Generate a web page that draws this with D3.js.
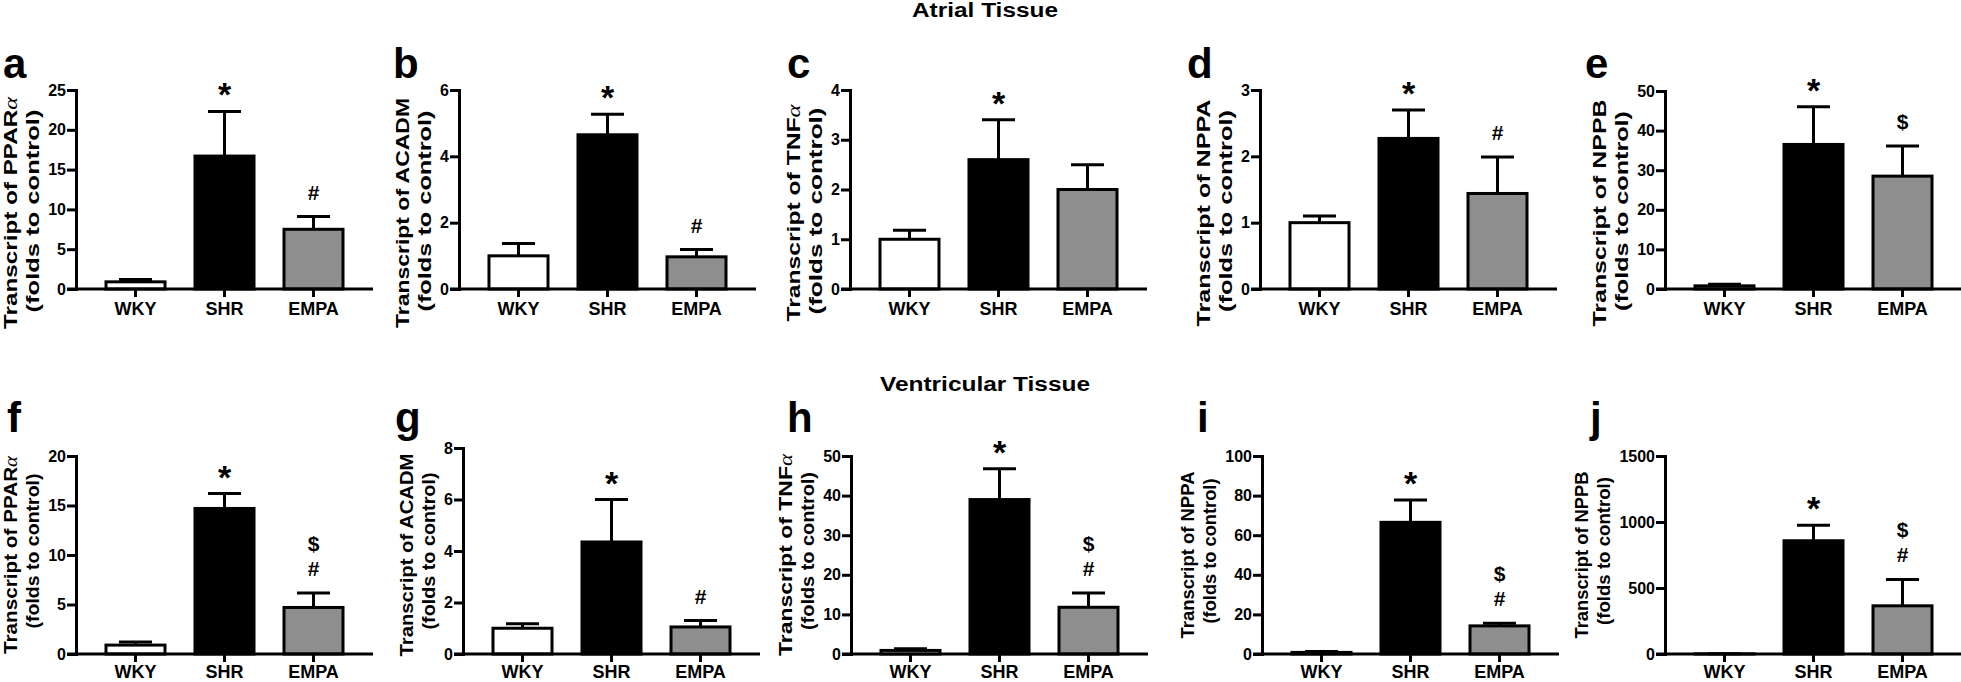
<!DOCTYPE html>
<html><head><meta charset="utf-8">
<script src="https://cdn.jsdelivr.net/npm/d3@7"></script>
<style>
body{margin:0;background:#fff}
svg{display:block}
text{font-family:"Liberation Sans",Arial,Helvetica,sans-serif;font-weight:bold;fill:#000}
</style>
</head><body>
<svg id="chart" width="1961" height="682"></svg>
<script>
// ---------------- data ----------------
const groups = ["WKY", "SHR", "EMPA"];
const panelLetters = ["a","b","c","d","e","f","g","h","i","j"];
const genes = ["PPAR", "ACADM", "TNF", "NPPA", "NPPB", "PPAR", "ACADM", "TNF", "NPPA", "NPPB"];
const geneAlpha = [true, false, true, false, false, true, false, true, false, false];
const yMax  = [25, 6, 4, 3, 50, 20, 8, 50, 100, 1500];
const yStep = [5, 2, 1, 1, 10, 5, 2, 10, 20, 500];
const means = [
  [0.9, 16.7, 7.5],
  [1.0, 4.65, 0.97],
  [1.0, 2.6, 2.0],
  [1.0, 2.27, 1.44],
  [0.8, 36.5, 28.5],
  [0.9, 14.7, 4.7],
  [1.0, 4.35, 1.05],
  [0.9, 39.0, 11.8],
  [0.8, 66.5, 14.2],
  [1.0, 858, 365]
];
const errs = [
  [0.3, 5.6, 1.6],
  [0.37, 0.62, 0.22],
  [0.18, 0.8, 0.5],
  [0.1, 0.43, 0.55],
  [0.4, 9.5, 7.6],
  [0.3, 1.5, 1.45],
  [0.17, 1.65, 0.25],
  [0.4, 7.8, 3.6],
  [0.4, 11.3, 1.3],
  [0.5, 118, 200]
];
const marks = [
  ["", "*", "#"],
  ["", "*", "#"],
  ["", "*", ""],
  ["", "*", "#"],
  ["", "*", "$"],
  ["", "*", "$#"],
  ["", "*", "#"],
  ["", "*", "$#"],
  ["", "*", "$#"],
  ["", "*", "$#"]
];
const rowTitles = ["Atrial Tissue", "Ventricular Tissue"];
const yLabelLine2 = "(folds to control)";

// ---------------- layout / style ----------------
const L = {
  axisX:   [76, 459, 850, 1260, 1665, 76, 463, 851, 1262, 1665],
  plotW: 297,
  axisTop: [90, 90, 90, 90, 91, 456, 448, 456, 456, 456],
  rowZero: [289, 654],
  catPad: [5, 3],
  letterX: [3, 393, 787, 1187, 1585, 7, 395, 787, 1197, 1590],
  letterBase: [78, 432],
  titleX: 985, titleBase: [17, 391], titleLen: [146, 210],
  lab1Len: [232, 230, 217, 227, 227, 198, 203, 202, 167, 167],
  lab2Len: [203, 201, 207, 202, 200, 155, 157, 158, 145, 148],
  lab1Mid: [213, 555], lab2Mid: [211, 551]
};
const fills = ["#ffffff", "#000000", "#8e8e8e"];
const SW = 3;

const svg = d3.select("#chart");

rowTitles.forEach((t, r) => {
  svg.append("text").attr("x", L.titleX).attr("y", L.titleBase[r])
    .attr("text-anchor", "middle").style("font-size", "20px")
    .attr("textLength", L.titleLen[r]).attr("lengthAdjust", "spacingAndGlyphs")
    .text(t);
});

panelLetters.forEach((letter, p) => {
  const row = p < 5 ? 0 : 1;
  const ax = L.axisX[p];
  const g = svg.append("g");

  const x = d3.scaleBand().domain(groups).range([ax, ax + L.plotW]).padding(0.337);
  const y = d3.scaleLinear().domain([0, yMax[p]]).range([L.rowZero[row], L.axisTop[p]]);
  const bw = x.bandwidth();

  // panel letter
  svg.append("text").attr("x", L.letterX[p]).attr("y", L.letterBase[row])
    .style("font-size", "42px").text(letter);

  // bars
  const data = groups.map((k, i) => ({k, i, m: means[p][i], e: errs[p][i], mk: marks[p][i]}));
  g.selectAll("rect.bar").data(data).join("rect").attr("class", "bar")
    .attr("x", d => x(d.k)).attr("width", bw)
    .attr("y", d => y(d.m)).attr("height", d => y(0) - y(d.m))
    .attr("fill", d => fills[d.i]).attr("stroke", "#000").attr("stroke-width", SW);

  // error bars (upper only)
  g.selectAll("line.ev").data(data).join("line").attr("class", "ev")
    .attr("x1", d => x(d.k) + bw / 2).attr("x2", d => x(d.k) + bw / 2)
    .attr("y1", d => y(d.m)).attr("y2", d => y(d.m + d.e))
    .attr("stroke", "#000").attr("stroke-width", SW);
  g.selectAll("line.ec").data(data).join("line").attr("class", "ec")
    .attr("x1", d => x(d.k) + bw / 2 - bw * 0.28).attr("x2", d => x(d.k) + bw / 2 + bw * 0.28)
    .attr("y1", d => y(d.m + d.e)).attr("y2", d => y(d.m + d.e))
    .attr("stroke", "#000").attr("stroke-width", SW);

  // significance marks
  data.filter(d => d.mk).forEach(d => {
    const cx = x(d.k) + bw / 2;
    const top = y(d.m + d.e);
    if (d.mk === "*") {
      g.append("text").attr("x", cx).attr("y", top - 5).attr("text-anchor", "middle")
        .style("font-size", "34px").text("*");
    } else {
      const syms = d.mk.split("").reverse(); // bottom first
      syms.forEach((s, j) => {
        g.append("text").attr("x", cx).attr("y", top - 17 - j * 25).attr("text-anchor", "middle")
          .style("font-size", "21px").text(s);
      });
    }
  });

  // y axis
  const yAxis = g.append("g").attr("transform", `translate(${ax},0)`)
    .call(d3.axisLeft(y).tickValues(d3.range(0, yMax[p] + yStep[p] / 2, yStep[p]))
      .tickSize(9).tickSizeOuter(0).tickPadding(1).tickFormat(d3.format("d")));
  yAxis.select(".domain").attr("stroke-width", SW).attr("stroke-linecap", "square");
  yAxis.selectAll(".tick line").attr("stroke-width", SW);
  yAxis.selectAll(".tick text").style("font-size", "16px");
  yAxis.attr("font-family", null);

  let W = 0;
  yAxis.selectAll(".tick text").each(function () { W = Math.max(W, this.getBBox().width); });

  // x axis
  const xAxis = g.append("g").attr("transform", `translate(0,${y(0)})`)
    .call(d3.axisBottom(x).tickSize(8).tickSizeOuter(0).tickPadding(L.catPad[row]));
  xAxis.select(".domain").remove();
  xAxis.append("line").attr("x1", ax - 9).attr("x2", ax + L.plotW)
    .attr("stroke", "#000").attr("stroke-width", SW);
  xAxis.selectAll(".tick line").attr("stroke-width", SW);
  xAxis.selectAll(".tick text").style("font-size", "18px");
  xAxis.attr("font-family", null);

  // y axis labels
  const base2 = ax - W - 19;
  const base1 = base2 - 22;
  const t1 = svg.append("text")
    .attr("transform", `translate(${base1},${L.lab1Mid[row]}) rotate(-90)`)
    .attr("text-anchor", "middle").style("font-size", "18px")
    .attr("textLength", L.lab1Len[p]).attr("lengthAdjust", "spacingAndGlyphs");
  t1.append("tspan").text("Transcript of " + genes[p]);
  if (geneAlpha[p]) {
    t1.append("tspan").style("font-family", "'Liberation Serif','DejaVu Serif',serif")
      .style("font-weight", "normal").style("font-style", "italic").text("α");
  }
  svg.append("text")
    .attr("transform", `translate(${base2},${L.lab2Mid[row]}) rotate(-90)`)
    .attr("text-anchor", "middle").style("font-size", "18px")
    .attr("textLength", L.lab2Len[p]).attr("lengthAdjust", "spacingAndGlyphs")
    .text(yLabelLine2);
});
</script>
</body></html>
